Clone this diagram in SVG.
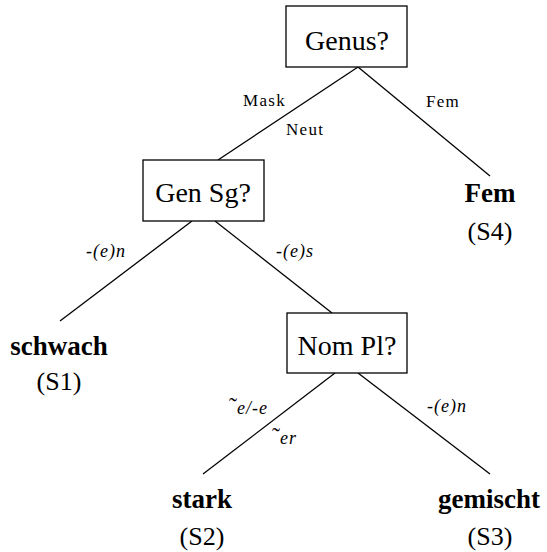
<svg xmlns="http://www.w3.org/2000/svg" width="547" height="552" viewBox="0 0 547 552">
<style>
  text { font-family: 'Liberation Serif', 'DejaVu Serif', serif; fill: #000; }
  .q { font-size: 28px; text-anchor: middle; }
  .leaf { font-size: 27px; font-weight: bold; text-anchor: middle; }
  .code { font-size: 26px; text-anchor: middle; }
  .lbl { font-size: 17px; letter-spacing: 1.3px; }
  .it { font-size: 18px; font-style: italic; letter-spacing: 1px; }
  .tl { font-size: 24px; font-style: normal; letter-spacing: 0; }
  .box { fill: #fff; stroke: #000; stroke-width: 1.3; }
  .edge { stroke: #000; stroke-width: 1.3; fill: none; }
</style>
<rect width="547" height="552" fill="#fff"/>
<g id="connectors">
  <line class="edge" x1="358" y1="67" x2="218" y2="160"/>
  <line class="edge" x1="358" y1="67" x2="490" y2="176"/>
  <line class="edge" x1="192" y1="221" x2="60" y2="321"/>
  <line class="edge" x1="215" y1="221" x2="332" y2="313"/>
  <line class="edge" x1="335" y1="373" x2="203" y2="474"/>
  <line class="edge" x1="358" y1="373" x2="490" y2="474"/>
  <text class="lbl" x="243" y="106">Mask</text>
  <text class="lbl" x="286" y="135">Neut</text>
  <text class="lbl" x="426" y="107">Fem</text>
  <text class="it" x="86" y="257">-(e)n</text>
  <text class="it" x="276" y="257">-(e)s</text>
  <text class="it" x="229" y="414"><tspan class="tl">˜</tspan>e/-e</text>
  <text class="it" x="272" y="444"><tspan class="tl">˜</tspan>er</text>
  <text class="it" x="427" y="412">-(e)n</text>
</g>
<g id="genus">
  <rect class="box" x="286" y="6" width="121" height="61"/>
  <text class="q" x="347" y="50">Genus?</text>
</g>
<g id="gensg">
  <rect class="box" x="143" y="160" width="121" height="61"/>
  <text class="q" x="203" y="202">Gen Sg?</text>
</g>
<g id="nompl">
  <rect class="box" x="287" y="313" width="120" height="60"/>
  <text class="q" x="347" y="355">Nom Pl?</text>
</g>
<g id="s1">
  <text class="leaf" x="59" y="355">schwach</text>
  <text class="code" x="59" y="390">(S1)</text>
</g>
<g id="s4">
  <text class="leaf" x="490" y="202">Fem</text>
  <text class="code" x="490" y="240">(S4)</text>
</g>
<g id="s2">
  <text class="leaf" x="202" y="508">stark</text>
  <text class="code" x="202" y="545">(S2)</text>
</g>
<g id="s3">
  <text class="leaf" x="489" y="508">gemischt</text>
  <text class="code" x="490" y="545">(S3)</text>
</g>
</svg>
